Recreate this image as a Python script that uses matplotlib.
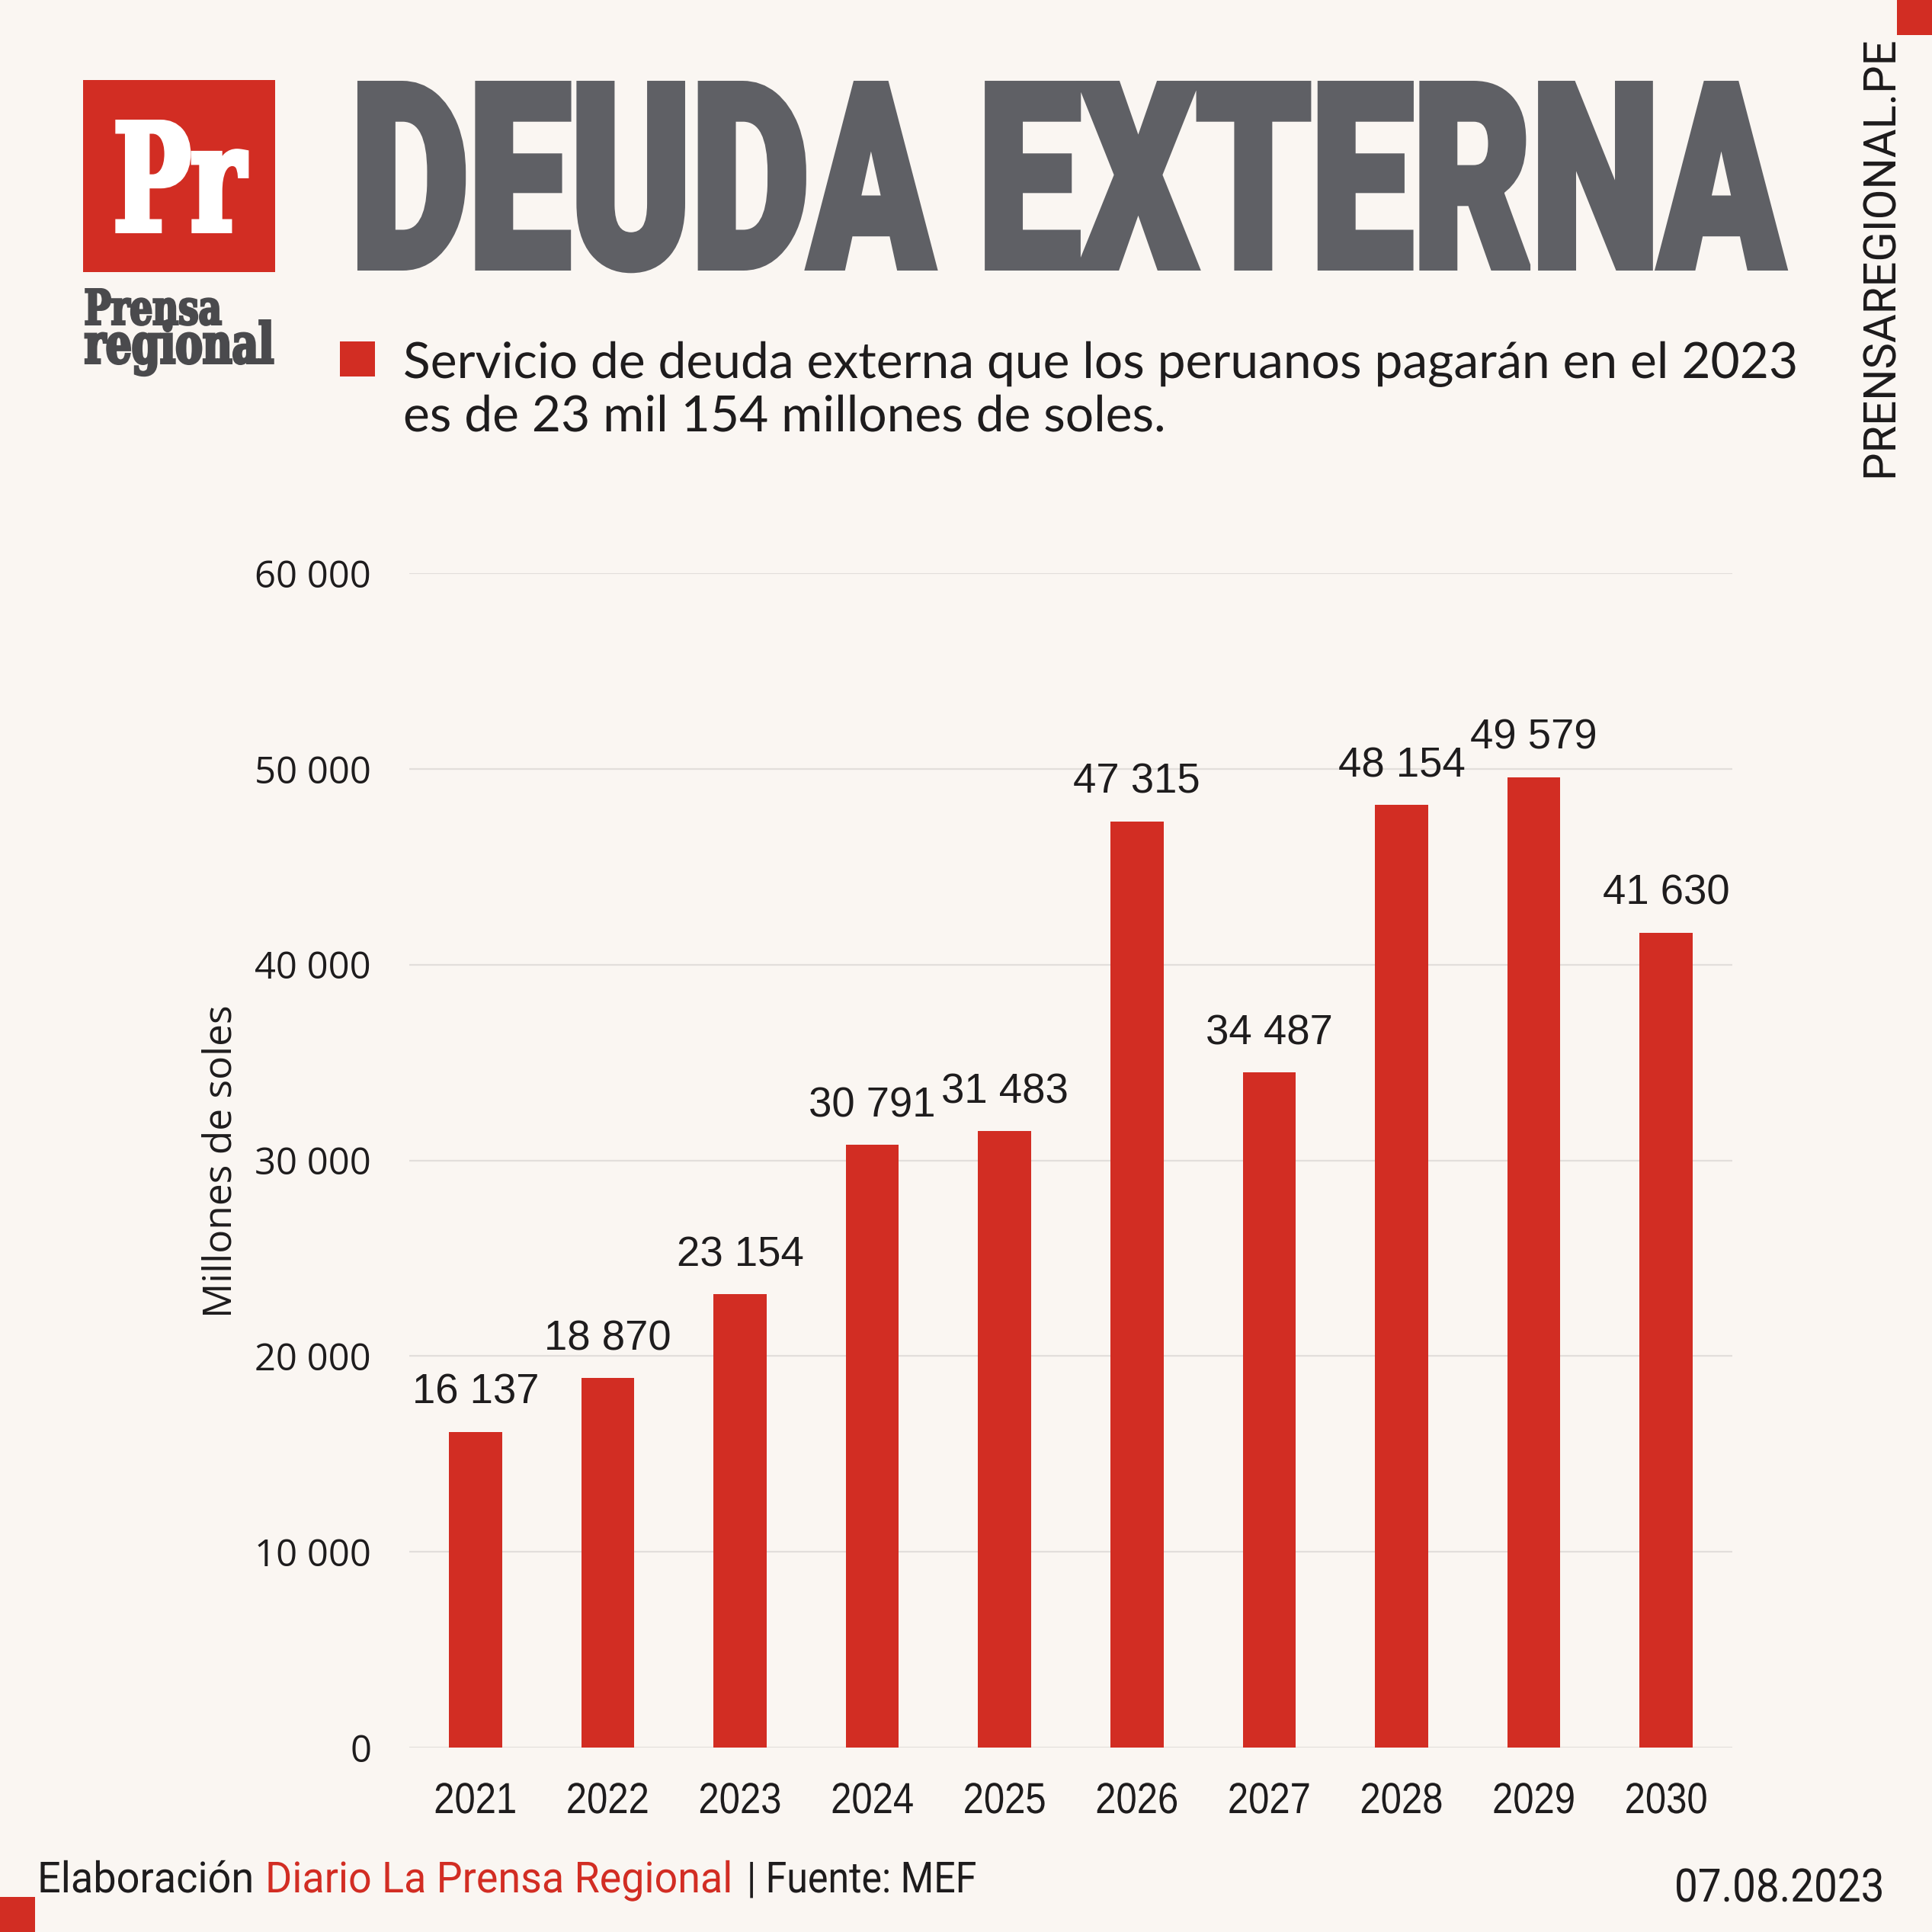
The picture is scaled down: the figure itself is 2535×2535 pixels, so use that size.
import matplotlib
matplotlib.use('Agg')
import matplotlib.pyplot as plt
from matplotlib.patheffects import AbstractPathEffect
from matplotlib.transforms import Affine2D
from matplotlib.patches import Rectangle

# ---------------- data ----------------
years = ['2021', '2022', '2023', '2024', '2025', '2026', '2027', '2028', '2029', '2030']
values = [16137, 18870, 23154, 30791, 31483, 47315, 34487, 48154, 49579, 41630]
value_labels = ['16 137', '18 870', '23 154', '30 791', '31 483',
                '47 315', '34 487', '48 154', '49 579', '41 630']
yticks = [0, 10000, 20000, 30000, 40000, 50000, 60000]
ytick_labels = ['0', '10 000', '20 000', '30 000', '40 000', '50 000', '60 000']

title = 'DEUDA EXTERNA'
subtitle_1 = 'Servicio de deuda externa que los peruanos pagarán en el 2023'
subtitle_2 = 'es de 23 mil 154 millones de soles.'
ylabel = 'Millones de soles'
footer_a = 'Elaboración'
footer_b = 'Diario La Prensa Regional'
footer_c = '| Fuente: MEF'
date_txt = '07.08.2023'
site_txt = 'PRENSAREGIONAL.PE'

# ---------------- style ----------------
W = H = 2535
DPI = 100
BG = '#faf6f2'
RED = '#d22d23'
GREY_T = '#5f6065'
DARK = '#1e1c1d'
LOGO_GREY = '#4a4a4d'
GRID = '#e2dedb'


class Squeeze(AbstractPathEffect):
    """Draw a text path scaled in x/y (condensed look), optional stroke to embolden."""
    def __init__(self, sx=1.0, sy=1.0, anchor='left', stroke_px=0.0):
        super().__init__((0, 0))
        self.sx = sx
        self.sy = sy
        self.anchor = anchor
        self.stroke_px = stroke_px

    def draw_path(self, renderer, gc, tpath, affine, rgbFace=None):
        a0 = 0.0
        if self.anchor != 'left':
            ext = tpath.get_extents()
            a0 = (ext.x0 + ext.x1) / 2 if self.anchor == 'center' else ext.x1
        sq = Affine2D().translate(-a0, 0).scale(self.sx, self.sy).translate(a0, 0)
        aff = sq + affine
        gc0 = renderer.new_gc()
        gc0.copy_properties(gc)
        if self.stroke_px > 0 and rgbFace is not None:
            gc0.set_linewidth(self.stroke_px / renderer.points_to_pixels(1.0))
            gc0.set_foreground(rgbFace)
            gc0.set_joinstyle('miter')
        else:
            gc0.set_linewidth(0)
        renderer.draw_path(gc0, tpath, aff, rgbFace)
        gc0.restore()


fig = plt.figure(figsize=(W / DPI, H / DPI), dpi=DPI, facecolor=BG)
renderer = fig.canvas.get_renderer()


def fx(x):
    return x / W


def fy(y):
    return 1 - y / H


def pt(px):
    return px * 72.0 / DPI


def fit_text(x, y, s, target_w, cap_px, cap_ratio, rotated=False,
             stroke_px=0.0, **kw):
    """Place text with baseline-left at (x, y) px so that its ink spans
    target_w px and its cap height is cap_px (x/y scaled independently)."""
    em = (cap_px - stroke_px) / cap_ratio
    if rotated:
        t = fig.text(fx(x), fy(y), s, rotation=90, rotation_mode='anchor',
                     ha='left', va='baseline', fontsize=pt(em), **kw)
    else:
        t = fig.text(fx(x + stroke_px / 2), fy(y - stroke_px / 2), s,
                     ha='left', va='baseline', fontsize=pt(em), **kw)
    bb = t.get_window_extent(renderer)
    length = bb.height if rotated else bb.width
    tw = target_w - stroke_px
    if length > tw:
        em1 = em * tw / length
        t.set_fontsize(pt(em1))
        sx, sy = 1.0, em / em1
    else:
        em1 = em
        sx, sy = tw / length, 1.0
    t.set_path_effects([Squeeze(sx, sy, stroke_px=stroke_px)])
    return t, em1, sx, sy


# ---------------- chart ----------------
ax_l, ax_r = 537, 2273
ax_b, ax_t = 2293, 752
ax = fig.add_axes([fx(ax_l), fy(ax_b), (ax_r - ax_l) / W, (ax_b - ax_t) / H])
ax.set_facecolor(BG)
xpos = list(range(len(years)))
ax.bar(xpos, values, width=0.4, color=RED, zorder=3)
ax.set_xlim(-0.5, len(years) - 0.5)
ax.set_ylim(0, 60000)
ax.set_yticks(yticks)
ax.set_yticklabels(ytick_labels)
ax.set_xticks(xpos)
ax.set_xticklabels(years)
for sp in ax.spines.values():
    sp.set_visible(False)
ax.yaxis.grid(True, color=GRID, linewidth=pt(2.2), zorder=0)
ax.set_axisbelow(True)
ax.tick_params(axis='both', length=0)
ax.tick_params(axis='y', pad=pt(50), labelsize=pt(49), labelcolor=DARK)
ax.tick_params(axis='x', pad=pt(44), labelsize=pt(57), labelcolor=DARK)
for lab in ax.get_yticklabels():
    lab.set_fontfamily(['Open Sans', 'DejaVu Sans'])
for lab in ax.get_xticklabels():
    lab.set_fontfamily(['Liberation Sans', 'DejaVu Sans'])
    lab.set_path_effects([Squeeze(0.86, anchor='center')])

for xi, v, lab in zip(xpos, values, value_labels):
    ax.annotate(lab, (xi, v), xytext=(0, pt(37)), textcoords='offset points',
                ha='center', va='baseline', fontsize=pt(54.5), color=DARK,
                family=['Liberation Sans', 'DejaVu Sans'])

fig.text(fx(304), fy(1524), ylabel, rotation=90, rotation_mode='anchor',
         ha='center', va='baseline', fontsize=pt(51.5), color=DARK,
         family=['Open Sans', 'DejaVu Sans'])

# ---------------- header ----------------
# logo block
fig.patches.append(Rectangle((fx(109), fy(357)), 252 / W, 252 / H,
                             transform=fig.transFigure, facecolor=RED,
                             edgecolor='none', zorder=1))
fit_text(145, 306, 'Pr', 180, 149, 0.729, stroke_px=7, color='white',
         family=['DejaVu Serif'], weight='bold', zorder=2)
fit_text(109, 427, 'Prensa', 184, 49, 0.729, stroke_px=3, color=LOGO_GREY,
         family=['DejaVu Serif'], weight='bold')
fit_text(109, 478, 'regional', 252, 59, 0.76, stroke_px=3.5, color=LOGO_GREY,
         family=['DejaVu Serif'], weight='bold')

# title
fit_text(456, 355, title, 1888, 249, 0.711, stroke_px=9,
         color=GREY_T, family=['Roboto', 'DejaVu Sans'], weight=900)

# subtitle bullet + text
fig.patches.append(Rectangle((fx(446), fy(494)), 46 / W, 46 / H,
                             transform=fig.transFigure, facecolor=RED,
                             edgecolor='none'))
t1, em1, sx1, sy1 = fit_text(529, 496, subtitle_1, 1831, 47, 0.7165,
                             color=DARK, family=['Lato', 'DejaVu Sans'])
t2 = fig.text(fx(529), fy(566), subtitle_2, ha='left', va='baseline',
              color=DARK, fontsize=pt(em1), family=['Lato', 'DejaVu Sans'])
t2.set_path_effects([Squeeze(sx1, sy1)])

# side url + corner squares
fit_text(2487, 631, site_txt, 578, 42, 0.711, rotated=True, color=DARK,
         family=['Roboto', 'DejaVu Sans'])
fig.patches.append(Rectangle((fx(2489), fy(46)), 46 / W, 46 / H,
                             transform=fig.transFigure, facecolor=RED,
                             edgecolor='none'))
fig.patches.append(Rectangle((0, 0), 46 / W, 46 / H,
                             transform=fig.transFigure, facecolor=RED,
                             edgecolor='none'))

# footer
fkw = dict(family=['Roboto', 'DejaVu Sans'])
fit_text(49, 2483, footer_a, 284, 40, 0.711, color=DARK, **fkw)
fit_text(348, 2483, footer_b, 613, 40, 0.711, color=RED, **fkw)
fit_text(980, 2483, footer_c, 301, 40, 0.711, color=DARK, **fkw)
fit_text(2197, 2495, date_txt, 275, 43, 0.711, color=DARK, **fkw)

fig.savefig('out.png', dpi=DPI, facecolor=BG)
